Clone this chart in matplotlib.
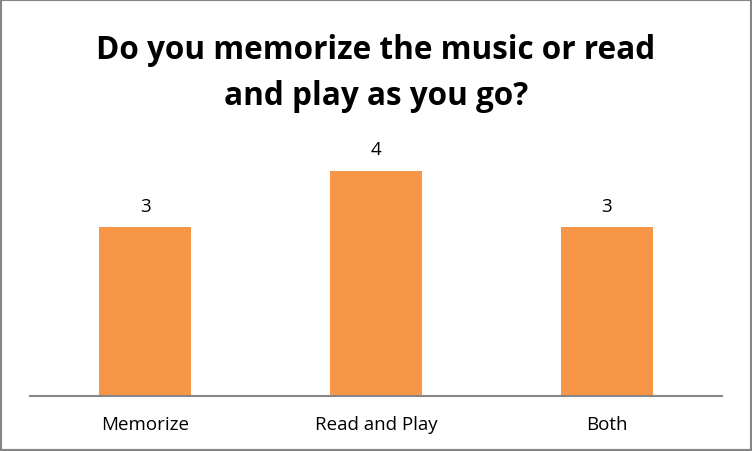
import matplotlib
matplotlib.use("Agg")
import matplotlib.pyplot as plt
from matplotlib.patches import Rectangle

categories = ["Memorize", "Read and Play", "Both"]
values = [3, 4, 3]
title = "Do you memorize the music or read\nand play as you go?"

bar_color = "#F79646"

fig = plt.figure(figsize=(7.52, 4.52), dpi=100)
ax = fig.add_axes([30/752, 1-397/452, 692/752, (397-115.4)/452])

x = list(range(len(categories)))
bars = ax.bar(x, values, width=0.4, color=bar_color, zorder=2)
ax.set_xlim(-0.5, len(categories)-0.5)
ax.set_ylim(0, 5)

for xi, v in zip(x, values):
    ax.annotate(str(v), (xi, v), xytext=(0, 9), textcoords="offset points",
                ha="center", va="bottom", fontsize=13.5, family="Open Sans", color="#000000")

ax.set_xticks(x)
ax.set_xticklabels(categories, fontsize=13.5, family="Open Sans")
ax.tick_params(axis="x", length=0, pad=13.5)
ax.set_yticks([])
for s in ["top", "right", "left"]:
    ax.spines[s].set_visible(False)
ax.spines["bottom"].set_color("#868686")
ax.spines["bottom"].set_linewidth(1.5)

fig.text(0.5, 1-73.5/452, title, ha="center", va="center", fontsize=22.7, fontweight="bold",
         family="Open Sans", linespacing=1.55)

fig.patches.append(Rectangle((0, 0), 1, 1, transform=fig.transFigure, fill=False,
                             edgecolor="#868686", linewidth=3))

fig.savefig("out.png", dpi=100)
